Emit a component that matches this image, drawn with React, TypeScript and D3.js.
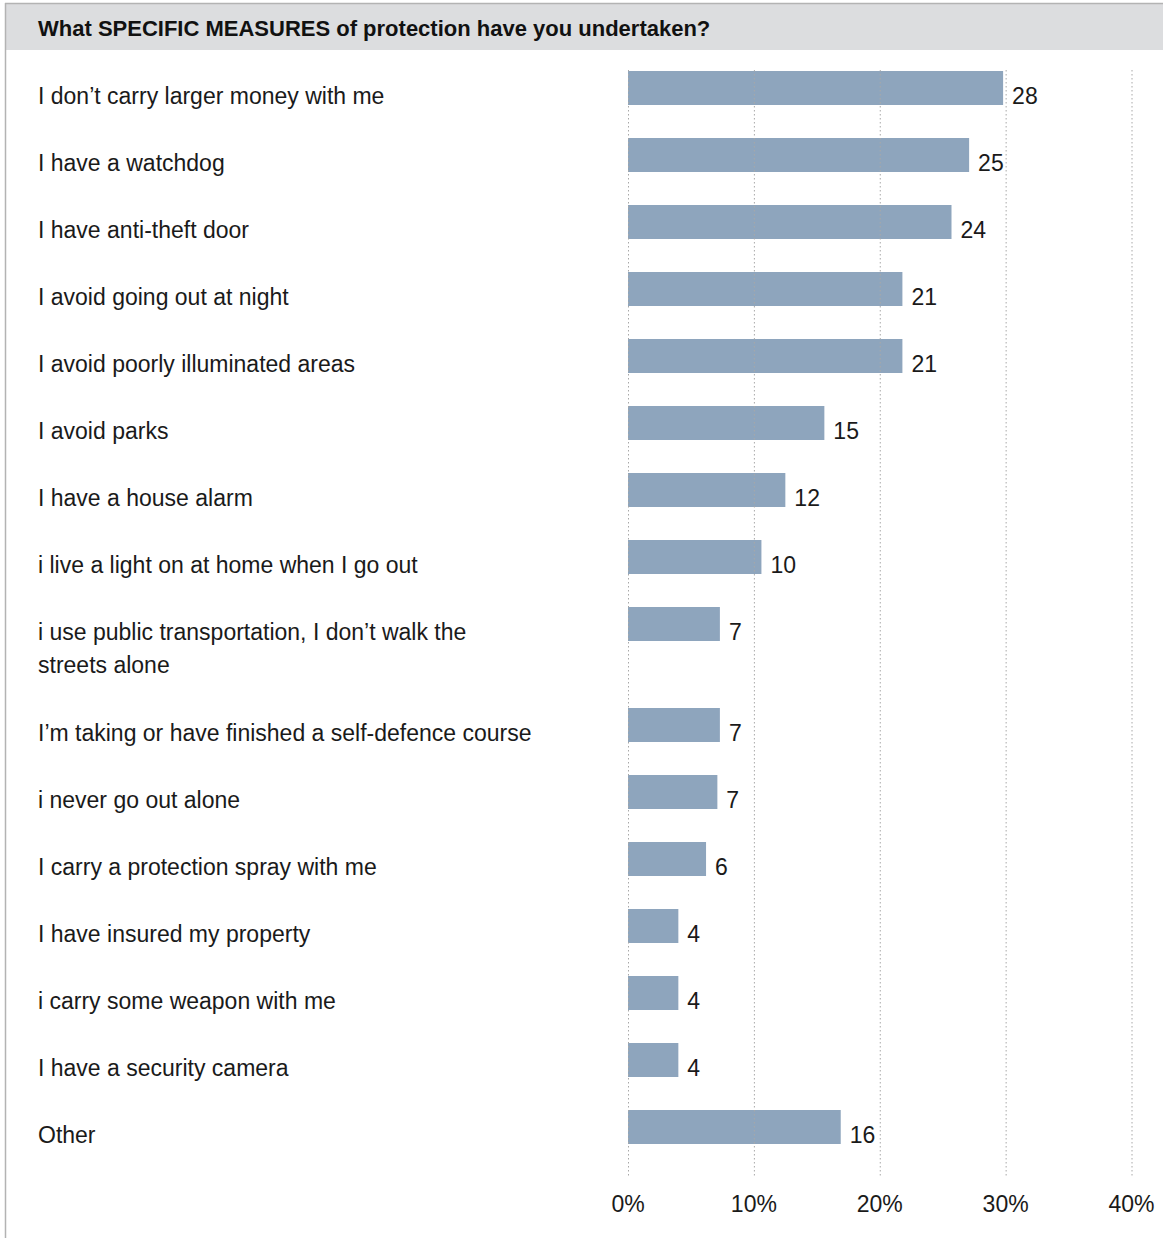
import React from "react";
import * as d3 from "d3";

const title = "What SPECIFIC MEASURES of protection have you undertaken?";

const categories = [
  "I don’t carry larger money with me",
  "I have a watchdog",
  "I have anti-theft door",
  "I avoid going out at night",
  "I avoid poorly illuminated areas",
  "I avoid parks",
  "I have a house alarm",
  "i live a light on at home when I go out",
  "i use public transportation, I don’t walk the\nstreets alone",
  "I’m taking or have finished a self-defence course",
  "i never go out alone",
  "I carry a protection spray with me",
  "I have insured my property",
  "i carry some weapon with me",
  "I have a security camera",
  "Other",
];

// bar lengths (percent) as drawn
const values = [29.8, 27.1, 25.7, 21.8, 21.8, 15.6, 12.5, 10.6, 7.3, 7.3, 7.1, 6.2, 4.0, 4.0, 4.0, 16.9];
// printed value labels
const valueLabels = ["28", "25", "24", "21", "21", "15", "12", "10", "7", "7", "7", "6", "4", "4", "4", "16"];

const ticks = [0, 10, 20, 30, 40];
const tickLabels = ["0%", "10%", "20%", "30%", "40%"];

export default function App() {
  const W = 1163;
  const H = 1238;
  const font = "'Liberation Sans', Arial, sans-serif";
  const x = d3.scaleLinear().domain([0, 40]).range([628, 1131.5]);

  const barH = 34;
  const rowPitch = 67;
  const lineH = 33;
  const lines = categories.map((c) => c.split("\n"));
  const tops: number[] = [];
  let acc = 71;
  lines.forEach((ls) => {
    tops.push(acc);
    acc += rowPitch + (ls.length - 1) * (lineH + 1);
  });

  const gridTop = 70;
  const gridBottom = 1177;

  return (
    <div style={{ position: "absolute", left: 0, top: 0 }}>
      <svg width={W} height={H} style={{ display: "block", background: "#fff" }}>
        {/* header */}
        <rect x={5} y={4} width={W - 5} height={46} fill="#dcdddf" />
        <line x1={5} x2={W} y1={3.5} y2={3.5} stroke="#b3b3b3" strokeWidth={1.5} />
        <line x1={5.5} x2={5.5} y1={3} y2={H} stroke="#b3b3b3" strokeWidth={1.5} />
        <text x={38} y={36} fontFamily={font} fontWeight="bold" fontSize={22} fill="#111">
          {title}
        </text>

        {/* bars */}
        {values.map((v, i) => (
          <rect key={"b" + i} x={x(0)} y={tops[i]} width={x(v) - x(0)} height={barH} fill="#8ea5bd" />
        ))}

        {/* gridlines */}
        {ticks.map((t, i) => (
          <line
            key={"g" + i}
            x1={x(t) + 0.5}
            x2={x(t) + 0.5}
            y1={gridTop}
            y2={gridBottom}
            stroke="#a8a8a8"
            strokeWidth={1}
            strokeDasharray="1.5,2.5"
          />
        ))}

        {/* value labels */}
        {values.map((v, i) => (
          <text key={"v" + i} x={x(v) + 9} y={tops[i] + barH - 1} fontFamily={font} fontSize={23} fill="#1a1a1a">
            {valueLabels[i]}
          </text>
        ))}

        {/* category labels */}
        {lines.map((ls, i) => (
          <text key={"c" + i} x={38} y={tops[i] + barH - 1} fontFamily={font} fontSize={23} fill="#1a1a1a">
            {ls.map((l, j) => (
              <tspan key={j} x={38} dy={j === 0 ? 0 : lineH}>
                {l}
              </tspan>
            ))}
          </text>
        ))}

        {/* axis labels */}
        {ticks.map((t, i) => (
          <text
            key={"t" + i}
            x={x(t)}
            y={1212}
            textAnchor="middle"
            fontFamily={font}
            fontSize={23}
            fill="#1a1a1a"
          >
            {tickLabels[i]}
          </text>
        ))}
      </svg>
    </div>
  );
}
